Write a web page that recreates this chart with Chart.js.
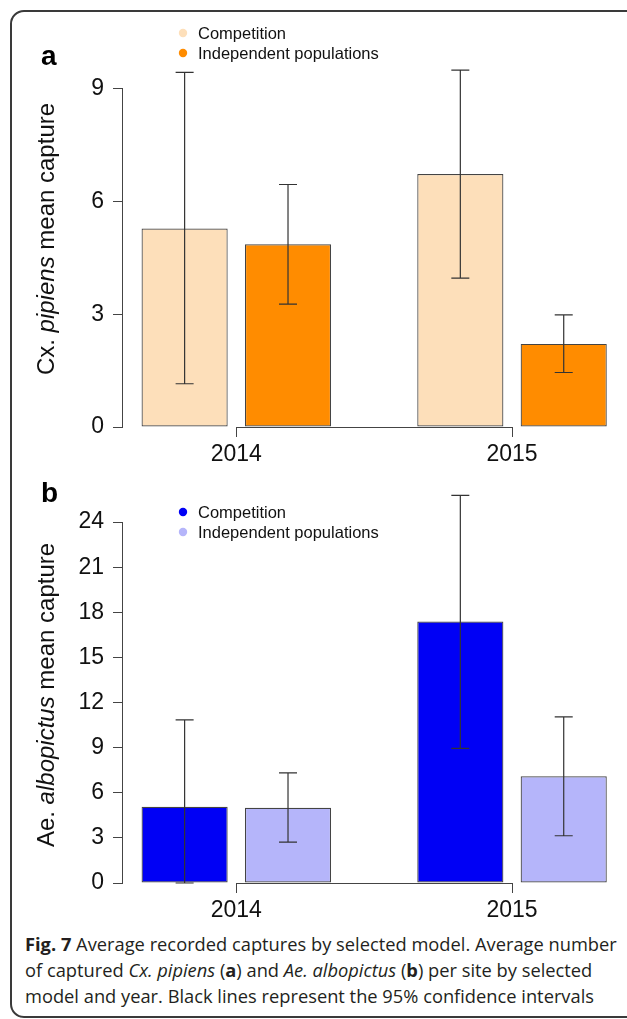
<!DOCTYPE html>
<html>
<head>
<meta charset="utf-8">
<script src="https://cdn.jsdelivr.net/npm/chart.js@4.4.1/dist/chart.umd.min.js"></script>
<style>
  html, body { margin: 0; padding: 0; background: #fff; overflow: hidden; }
  body { width: 627px; height: 1019px; position: relative; font-family: "Liberation Sans", Arial, sans-serif; }
  .frame { position: absolute; left: 10px; top: 10px; width: 640px; height: 1004px; border: 2px solid #3a3a3a; border-radius: 14px; }
  canvas { position: absolute; left: 0; }
  #chartA { top: 14px; }
  #chartB { top: 470px; }
  .panel { position: absolute; left: 41px; font: bold 28px "Liberation Sans", Arial, sans-serif; line-height: 28px; color: #000; }
  .caption { position: absolute; left: 25px; top: 931px; font: 18.3px "Open Sans", sans-serif; line-height: 26px; color: #231f20; white-space: nowrap; }
</style>
</head>
<body>
<div class="frame"></div>
<canvas id="chartA" width="627" height="456"></canvas>
<canvas id="chartB" width="627" height="456"></canvas>
<div class="panel" style="top:42px">a</div>
<div class="panel" style="top:479px">b</div>
<div class="caption">
  <div><b>Fig. 7</b> Average recorded captures by selected model. Average number</div>
  <div>of captured <i>Cx. pipiens</i> (<b>a</b>) and <i>Ae. albopictus</i> (<b>b</b>) per site by selected</div>
  <div>model and year. Black lines represent the 95% confidence intervals</div>
</div>
<script>
// years and series
const years = [2014, 2015];
const seriesNames = ['Competition', 'Independent populations'];

// panel a: Cx. pipiens
const cxComp = [5.28, 6.73];
const cxCompLo = [1.15, 3.96];
const cxCompHi = [9.43, 9.49];
const cxIndep = [4.86, 2.21];
const cxIndepLo = [3.27, 1.45];
const cxIndepHi = [6.45, 2.98];
const cxTicks = [0, 3, 6, 9];

// panel b: Ae. albopictus
const aeComp = [5.07, 17.38];
const aeCompLo = [0, 8.95];
const aeCompHi = [10.85, 25.77];
const aeIndep = [5.0, 7.09];
const aeIndepLo = [2.72, 3.14];
const aeIndepHi = [7.32, 11.04];
const aeTicks = [0, 3, 6, 9, 12, 15, 18, 21, 24];

const axisFont = { family: '"Liberation Sans", Arial, sans-serif', size: 23 };

// R-like axes, error bars, legend and mixed-style y title
const rStyle = {
    id: 'rStyle',
    afterDatasetsDraw(chart, args, opts) {
        const ctx = chart.ctx;
        const xs = chart.scales.x, ys = chart.scales.y, area = chart.chartArea;
        ctx.save();

        ctx.strokeStyle = '#444';
        ctx.lineWidth = 1;
        ctx.beginPath();
        const yt = ys.ticks, xt = xs.ticks;
        const ax = Math.round(area.left) - 0.5;
        ctx.moveTo(ax, ys.getPixelForValue(yt[0].value));
        ctx.lineTo(ax, ys.getPixelForValue(yt[yt.length - 1].value));
        const ay = Math.round(area.bottom) + 0.5;
        ctx.moveTo(xs.getPixelForValue(xt[0].value), ay);
        ctx.lineTo(xs.getPixelForValue(xt[xt.length - 1].value), ay);
        ctx.stroke();

        // error bars
        ctx.strokeStyle = '#333';
        ctx.lineWidth = 1.2;
        chart.data.datasets.forEach((ds, di) => {
            chart.getDatasetMeta(di).data.forEach((bar, i) => {
                const lo = ys.getPixelForValue(ds.errLo[i]);
                const hi = ys.getPixelForValue(ds.errHi[i]);
                const cx = bar.x;
                ctx.beginPath();
                ctx.moveTo(cx, lo); ctx.lineTo(cx, hi);
                ctx.moveTo(cx - 9, lo); ctx.lineTo(cx + 9, lo);
                ctx.moveTo(cx - 9, hi); ctx.lineTo(cx + 9, hi);
                ctx.stroke();
            });
        });

        // legend
        ctx.font = '16.5px "Liberation Sans", Arial, sans-serif';
        ctx.textBaseline = 'middle';
        ctx.textAlign = 'left';
        chart.data.datasets.forEach((ds, di) => {
            const ly = opts.legendY + di * 20;
            ctx.fillStyle = ds.backgroundColor;
            ctx.beginPath();
            ctx.arc(opts.legendX, ly, 4.2, 0, Math.PI * 2);
            ctx.fill();
            ctx.fillStyle = '#111';
            ctx.fillText(ds.label, opts.legendX + 15, ly + 1);
        });

        // y title
        ctx.save();
        ctx.translate(opts.titleX, (area.top + area.bottom) / 2);
        ctx.rotate(-Math.PI / 2);
        ctx.textBaseline = 'alphabetic';
        ctx.fillStyle = '#111';
        const fonts = opts.titleParts.map(p => (p.italic ? 'italic ' : '') + '24px "Liberation Sans", Arial, sans-serif');
        let total = 0;
        opts.titleParts.forEach((p, i) => { ctx.font = fonts[i]; total += ctx.measureText(p.text).width; });
        let pos = -total / 2;
        opts.titleParts.forEach((p, i) => {
            ctx.font = fonts[i];
            ctx.fillText(p.text, pos, 0);
            pos += ctx.measureText(p.text).width;
        });
        ctx.restore();

        ctx.restore();
    }
};

function makePanel(canvasId, comp, compLo, compHi, indep, indepLo, indepHi, colors, yTicks, yMax, titleParts, legendY) {
    const barStyle = {
        borderColor: '#444',
        borderWidth: 1.2,
        borderSkipped: false,
        categoryPercentage: 0.75,
        barPercentage: 0.833
    };
    new Chart(document.getElementById(canvasId), {
        type: 'bar',
        data: {
            datasets: [
                Object.assign({
                    label: seriesNames[0],
                    data: years.map((yr, i) => ({ x: yr, y: comp[i] })),
                    backgroundColor: colors[0],
                    errLo: compLo,
                    errHi: compHi
                }, barStyle),
                Object.assign({
                    label: seriesNames[1],
                    data: years.map((yr, i) => ({ x: yr, y: indep[i] })),
                    backgroundColor: colors[1],
                    errLo: indepLo,
                    errHi: indepHi
                }, barStyle)
            ]
        },
        options: {
            responsive: false,
            animation: false,
            layout: { padding: { top: 37, right: 8, left: 0, bottom: 0 } },
            plugins: {
                legend: { display: false },
                tooltip: { enabled: false },
                rStyle: { legendX: 183, legendY: legendY, titleX: 54, titleParts: titleParts }
            },
            scales: {
                x: {
                    type: 'linear',
                    min: 2013.589,
                    max: 2015.388,
                    offset: false,
                    afterBuildTicks: s => { s.ticks = years.map(v => ({ value: v })); },
                    afterFit: s => { s.height = 43; },
                    grid: { drawOnChartArea: false, drawTicks: true, tickLength: 10, color: '#444', offset: false },
                    border: { display: false },
                    ticks: { callback: v => String(v), font: axisFont, color: '#111', padding: 4, maxRotation: 0, autoSkip: false }
                },
                y: {
                    min: 0,
                    max: yMax,
                    afterBuildTicks: s => { s.ticks = yTicks.map(v => ({ value: v })); },
                    afterFit: s => { s.width = 123; },
                    grid: { drawOnChartArea: false, drawTicks: true, tickLength: 10, color: '#444' },
                    border: { display: false },
                    ticks: { font: axisFont, color: '#111', padding: 9 }
                }
            }
        },
        plugins: [rStyle]
    });
}

makePanel('chartA', cxComp, cxCompLo, cxCompHi, cxIndep, cxIndepLo, cxIndepHi,
    ['#FDDFBA', '#FF8C00'], cxTicks, 10,
    [{ text: 'Cx. ', italic: false }, { text: 'pipiens', italic: true }, { text: ' mean capture', italic: false }], 19);

makePanel('chartB', aeComp, aeCompLo, aeCompHi, aeIndep, aeIndepLo, aeIndepHi,
    ['#0000F5', '#B5B5FA'], aeTicks, 25,
    [{ text: 'Ae. ', italic: false }, { text: 'albopictus', italic: true }, { text: ' mean capture', italic: false }], 42);
</script>
</body>
</html>
